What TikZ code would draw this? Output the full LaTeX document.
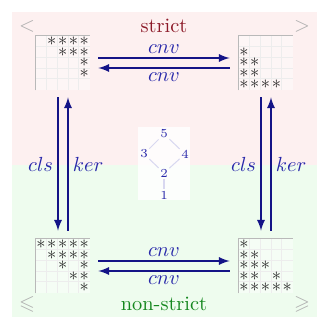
\documentclass[tikz,border=0pt]{standalone}
\usepackage{amssymb}
\usetikzlibrary{arrows,calc}
\definecolor{StrictClr}{RGB}{140,25,40}
\definecolor{NonStrictClr}{RGB}{20,135,30}
\definecolor{ArrowClr}{RGB}{20,20,135}
\definecolor{LabelClr}{RGB}{40,40,170}
\definecolor{CornerClr}{RGB}{175,175,175}
\definecolor{PinkClr}{RGB}{253,240,240}
\definecolor{GreenClr}{RGB}{238,252,238}
\definecolor{FrameClr}{RGB}{185,185,185}

\tikzset{
  relbox/.style={minimum size=26.46pt,inner sep=0pt,fill=white,fill opacity=0.45},
  entry/.style={inner sep=0pt,text=black!85,scale=0.9},
  gridline/.style={color=black!7,line width=0.3pt},
  frameline/.style={color=FrameClr,line width=0.5pt},
  relarrow/.style={-latex,line width=0.8pt,color=ArrowClr},
  rellabel/.style={text=LabelClr,inner sep=2pt},
  corner/.style={text=CornerClr},
  elem/.style={text=LabelClr,font=\fontsize{6}{6}\selectfont,inner sep=0.6pt},
  hasse/.style={color=LabelClr!18,line width=0.5pt}
}

% a 5x5 relation matrix: name, centre, list of row/column entries
\newcommand{\RelMatrix}[3]{%
  \node[relbox] (#1) at (#2) {};
  \foreach \k in {1,...,4}{
    \draw[gridline] ($(#1.north west)+(\k*10.8,0)$) -- ++(0,54);
    \draw[gridline] ($(#1.north west)+(0,\k*10.8)$) -- ++(54,0);
  }
  \draw[frameline] (#1.south west) -- (#1.north west) -- (#1.north east);
  \foreach \r/\c in {#3}
    \node[entry] at ($(#1.north west)+(\c*10.8-5.4,\r*10.8-5.4)$) {$*$};
}

\begin{document}
\begin{tikzpicture}[x=0.49pt,y=-0.49pt]
\useasboundingbox (0,0) rectangle (330,330);

\fill[PinkClr] (12,12) rectangle (317,165);
\fill[GreenClr] (12,165) rectangle (317,317);

% the four relations
\RelMatrix{SL}{63,63}{1/2,1/3,1/4,1/5,2/3,2/4,2/5,3/5,4/5}
\RelMatrix{SG}{266,63}{2/1,3/1,3/2,4/1,4/2,5/1,5/2,5/3,5/4}
\RelMatrix{NL}{63,266}{1/1,1/2,1/3,1/4,1/5,2/2,2/3,2/4,2/5,3/3,3/5,4/4,4/5,5/5}
\RelMatrix{NG}{266,266}{1/1,2/1,2/2,3/1,3/2,3/3,4/1,4/2,4/4,5/1,5/2,5/3,5/4,5/5}

\node[text=StrictClr] (strict) at (164,26) {strict};
\node[text=NonStrictClr] (nonstrict) at (164,304) {non-strict};
\node[corner] (lt) at (27,26) {$<$};
\node[corner] (gt) at (302,26) {$>$};
\node[corner] (le) at (27,304) {$\leqslant$};
\node[corner] (ge) at (302,304) {$\geqslant$};

% converse
\draw[relarrow] ($(SL.east)+(8,-5)$) -- node[rellabel,above] {$cnv$} ($(SG.west)+(-9,-5)$);
\draw[relarrow] ($(SG.west)+(-9,5)$) -- node[rellabel,below] {$cnv$} ($(SL.east)+(8,5)$);
\draw[relarrow] ($(NL.east)+(8,-5)$) -- node[rellabel,above] {$cnv$} ($(NG.west)+(-9,-5)$);
\draw[relarrow] ($(NG.west)+(-9,5)$) -- node[rellabel,below] {$cnv$} ($(NL.east)+(8,5)$);

% closure and kernel
\draw[relarrow] ($(SL.south)+(-5,7)$) -- node[rellabel,left] {$cls$} ($(NL.north)+(-5,-8)$);
\draw[relarrow] ($(NL.north)+(5,-8)$) -- node[rellabel,right] {$ker$} ($(SL.south)+(5,7)$);
\draw[relarrow] ($(SG.south)+(-5,7)$) -- node[rellabel,left] {$cls$} ($(NG.north)+(-5,-8)$);
\draw[relarrow] ($(NG.north)+(5,-8)$) -- node[rellabel,right] {$ker$} ($(SG.south)+(5,7)$);

% the order
\fill[white,opacity=0.85] (138,127) rectangle (190,200);
\node[elem] (g5) at (164,134) {5};
\node[elem] (g3) at (144,154) {3};
\node[elem] (g4) at (185,154) {4};
\node[elem] (g2) at (164,173) {2};
\node[elem] (g1) at (164,195) {1};
\draw[hasse] (g5) -- (g3) -- (g2) -- (g4) -- (g5);
\draw[hasse] (g2) -- (g1);

\end{tikzpicture}
\end{document}
